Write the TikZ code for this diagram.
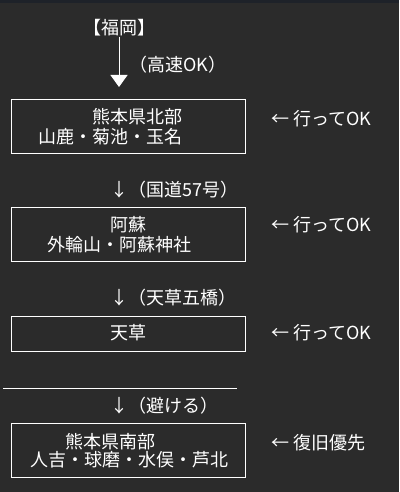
\documentclass[tikz,border=0pt]{standalone}
\usepackage{fontspec}
\newfontfamily\jp{Noto Sans CJK JP}
\usetikzlibrary{arrows.meta}
\definecolor{bg}{HTML}{2B2B2B}
\definecolor{topbar}{HTML}{1E2229}
\begin{document}
\begin{tikzpicture}[x=1pt,y=-1pt,
  txt/.style={text=white,inner sep=0pt,font=\jp\fontsize{18pt}{20pt}\selectfont},
  box/.style={draw=white,line width=1pt,minimum width=234pt,inner sep=0pt,anchor=north west},
  link/.style={draw=white,line width=1pt}]
\fill[bg] (0,0) rectangle (399,492);
\fill[topbar] (0,0) rectangle (399,3);
\useasboundingbox (0,0) rectangle (399,492);
% top
\node[txt] (fk) at (119,28) {【福岡】};
\coordinate (fkend) at (119,87);
\draw[link,-{Triangle[width=17pt,length=12pt]}] (fk.south) -- (fkend);
\node[txt,anchor=west] (hs) at (129,65) {（高速OK）};
% box 1
\node[box,minimum height=54pt] (box1) at (11,99) {};
\node[txt] (b1a) at (137,117) {熊本県北部};
\node[txt] (b1b) at (110,137) {山鹿・菊池・玉名};
\node[txt,anchor=west] (r1) at (271,119) {← 行ってOK};
\node[txt,anchor=west] (d1) at (110.5,190) {↓（国道57号）};
% box 2
\node[box,minimum height=54pt] (box2) at (11,207) {};
\node[txt] (b2a) at (128.5,225) {阿蘇};
\node[txt] (b2b) at (119,245) {外輪山・阿蘇神社};
\node[txt,anchor=west] (r2) at (271,225) {← 行ってOK};
\node[txt,anchor=west] (d2) at (110.5,298) {↓（天草五橋）};
% box 3
\node[box,minimum height=35pt] (box3) at (11,316) {};
\node[txt] (b3a) at (128.5,333) {天草};
\node[txt,anchor=west] (r3) at (271,333) {← 行ってOK};
% separator
\coordinate (sepL) at (3,388);
\coordinate (sepR) at (237,388);
\draw[link] (sepL) -- (sepR);
\node[txt,anchor=west] (d3) at (110.5,406) {↓（避ける）};
% box 4
\node[box,minimum height=54pt] (box4) at (11,423) {};
\node[txt] (b4a) at (110.5,442) {熊本県南部};
\node[txt] (b4b) at (129,460) {人吉・球磨・水俣・芦北};
\node[txt,anchor=west] (r4) at (271,443) {← 復旧優先};
\end{tikzpicture}
\end{document}
